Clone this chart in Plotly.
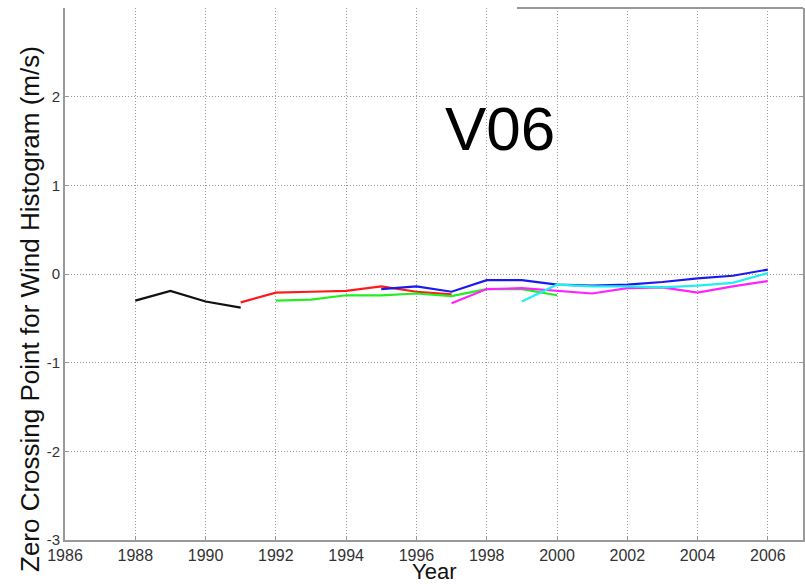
import plotly.graph_objects as go

# Data
years_black = [1988, 1989, 1990, 1991]
vals_black = [-0.30, -0.19, -0.31, -0.38]

years_red = [1991, 1992, 1993, 1994, 1995, 1996, 1997]
vals_red = [-0.32, -0.21, -0.20, -0.19, -0.14, -0.20, -0.23]

years_green = [1992, 1993, 1994, 1995, 1996, 1997, 1998, 1999, 2000]
vals_green = [-0.30, -0.29, -0.24, -0.24, -0.22, -0.25, -0.17, -0.17, -0.24]

years_blue = [1995, 1996, 1997, 1998, 1999, 2000, 2001, 2002, 2003, 2004, 2005, 2006]
vals_blue = [-0.17, -0.14, -0.20, -0.07, -0.07, -0.12, -0.13, -0.12, -0.09, -0.05, -0.02, 0.05]

years_magenta = [1997, 1998, 1999, 2000, 2001, 2002, 2003, 2004, 2005, 2006]
vals_magenta = [-0.33, -0.17, -0.16, -0.19, -0.22, -0.16, -0.15, -0.21, -0.14, -0.08]

years_cyan = [1999, 2000, 2001, 2002, 2003, 2004, 2005, 2006]
vals_cyan = [-0.31, -0.12, -0.14, -0.14, -0.15, -0.13, -0.10, 0.01]

x_ticks = list(range(1986, 2007, 2))
y_ticks = [-3, -2, -1, 0, 1, 2]
y_ticktext = ["-3", "-2", "-1", "0", "1", "2"]

series = [
    (years_black, vals_black, "#111111"),
    (years_red, vals_red, "#ff1a1a"),
    (years_green, vals_green, "#22ee22"),
    (years_blue, vals_blue, "#1a1aee"),
    (years_magenta, vals_magenta, "#ff22ff"),
    (years_cyan, vals_cyan, "#22eeee"),
]

fig = go.Figure()
for xs, ys, c in series:
    fig.add_trace(go.Scatter(x=xs, y=ys, mode="lines",
                             line=dict(color=c, width=2.2), showlegend=False))

axis_common = dict(
    showgrid=True, gridcolor="#999999", griddash="1px,2px", gridwidth=1,
    zeroline=False, showline=True, linecolor="#999999", linewidth=2,
    ticks="inside", ticklen=4, tickcolor="#999999",
)

fig.update_xaxes(range=[1986, 2007], tickvals=x_ticks, mirror=False,
                 tickfont=dict(family="Liberation Sans, Arial", size=16, color="#333333"),
                 **axis_common)
fig.update_yaxes(range=[-3, 3], tickvals=y_ticks, ticktext=y_ticktext, mirror="ticks",
                 tickfont=dict(family="Liberation Sans, Arial", size=15, color="#333333"),
                 **axis_common)

W_PLOT = 738
H_PLOT = 532

fig.update_layout(
    width=805, height=584,
    margin=dict(l=65, r=2, t=8, b=44, autoexpand=False),
    paper_bgcolor="white", plot_bgcolor="white",
    font=dict(family="Liberation Sans, Arial", color="#111111"),
    annotations=[
        dict(text="V06", x=(500 - 65) / W_PLOT, y=(540 - 128) / H_PLOT,
             xref="paper", yref="paper", showarrow=False,
             xanchor="center", yanchor="middle",
             font=dict(size=62, color="black")),
        dict(text="Year", x=(434 - 65) / W_PLOT, y=(540 - 571) / H_PLOT,
             xref="paper", yref="paper", showarrow=False,
             xanchor="center", yanchor="middle",
             font=dict(size=22, color="#111111")),
        dict(text="Zero Crossing Point for Wind Histogram (m/s)", textangle=-90,
             x=(30 - 65) / W_PLOT, y=(540 - 309) / H_PLOT,
             xref="paper", yref="paper", showarrow=False,
             xanchor="center", yanchor="middle",
             font=dict(size=26, color="#111111")),
    ],
    shapes=[
        dict(type="line", xref="paper", yref="paper", x0=(517 - 65) / W_PLOT, x1=1.0,
             y0=1.0, y1=1.0, line=dict(color="#999999", width=2)),
    ],
)

fig.write_html("out.html", config={"displayModeBar": False},
               post_script="document.body.style.margin='0';")
